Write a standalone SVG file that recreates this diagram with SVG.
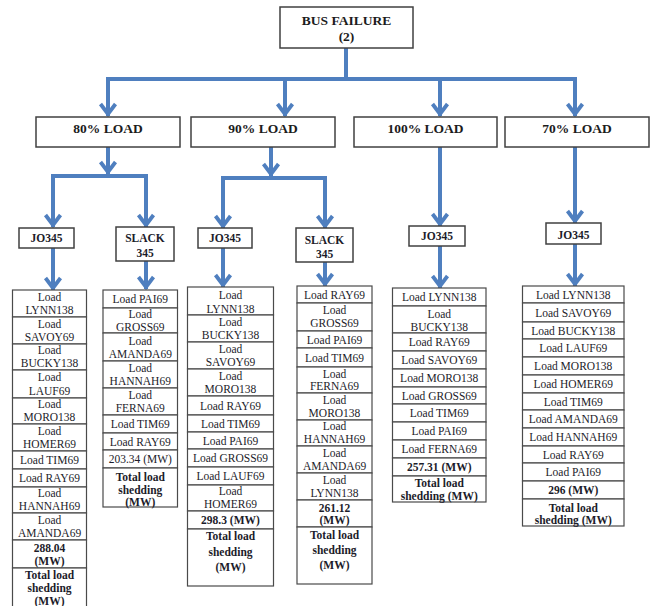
<svg xmlns="http://www.w3.org/2000/svg" width="655" height="606" viewBox="0 0 655 606">
<style>
.box{fill:#fff;stroke:#404040;stroke-width:1.5}
.cell{fill:#fff;stroke:#4a4a4a;stroke-width:1.2}
.t{font-family:'Liberation Serif','DejaVu Serif',Times,serif;font-size:11.5px;fill:#1c1c2a;text-anchor:middle}
.b{font-weight:bold}
.h{font-family:'Liberation Serif','DejaVu Serif',Times,serif;font-size:13.5px;font-weight:bold;fill:#1c1c1c;text-anchor:middle}
.conn{fill:none;stroke:#4F7FBF;stroke-width:4}
</style>
<defs>
<marker id="arr" markerUnits="userSpaceOnUse" viewBox="-16 -10 18 20" refX="0" refY="0" markerWidth="18" markerHeight="20" orient="auto">
<path d="M-12,-7.5 L-2,0 L-12,7.5" fill="none" stroke="#4F7FBF" stroke-width="3.8"/>
</marker>
</defs>
<g id="connectors">
<path class="conn" d="M346,48 V79 M106,79 H577"/>
<path class="conn" d="M108,79 V116" marker-end="url(#arr)"/>
<path class="conn" d="M285,79 V116" marker-end="url(#arr)"/>
<path class="conn" d="M440,79 V116" marker-end="url(#arr)"/>
<path class="conn" d="M575,79 V116" marker-end="url(#arr)"/>
<path class="conn" d="M108,147 V174" marker-end="url(#arr)"/>
<path class="conn" d="M51,176 H148"/>
<path class="conn" d="M53,176 V227" marker-end="url(#arr)"/>
<path class="conn" d="M146,176 V227" marker-end="url(#arr)"/>
<path class="conn" d="M53,248 V290" marker-end="url(#arr)"/>
<path class="conn" d="M146,261 V289" marker-end="url(#arr)"/>
<path class="conn" d="M271,147 V176" marker-end="url(#arr)"/>
<path class="conn" d="M221,178 H327"/>
<path class="conn" d="M223,178 V228" marker-end="url(#arr)"/>
<path class="conn" d="M325,178 V228" marker-end="url(#arr)"/>
<path class="conn" d="M223,248 V287" marker-end="url(#arr)"/>
<path class="conn" d="M325,262 V286" marker-end="url(#arr)"/>
<path class="conn" d="M440,147 V226" marker-end="url(#arr)"/>
<path class="conn" d="M440,246 V288" marker-end="url(#arr)"/>
<path class="conn" d="M575,147 V223" marker-end="url(#arr)"/>
<path class="conn" d="M575,244 V286" marker-end="url(#arr)"/>
</g>
<g id="bus-failure">
<rect class="box" x="280" y="7" width="133" height="41"/>
<text class="h" x="346.5" y="24.5">BUS FAILURE</text>
<text class="h" x="346.5" y="41">(2)</text>
</g>
<g id="load80"><rect class="box" x="36" y="117" width="144" height="30"/><text class="h" x="108" y="133">80% LOAD</text></g>
<g id="load90"><rect class="box" x="191" y="117" width="144" height="30"/><text class="h" x="263" y="133">90% LOAD</text></g>
<g id="load100"><rect class="box" x="354" y="117" width="143" height="30"/><text class="h" x="425.5" y="133">100% LOAD</text></g>
<g id="load70"><rect class="box" x="505" y="117" width="144" height="30"/><text class="h" x="577" y="133">70% LOAD</text></g>
<g id="jo345-80"><rect class="box" x="19" y="228" width="55" height="20"/><text class="t b" x="46.5" y="242">JO345</text></g>
<g id="slack345-80"><rect class="box" x="116" y="227" width="58" height="34"/><text class="t b" x="145" y="241.5">SLACK</text><text class="t b" x="145" y="256.5">345</text></g>
<g id="jo345-90"><rect class="box" x="198" y="228" width="54" height="20"/><text class="t b" x="225" y="242">JO345</text></g>
<g id="slack345-90"><rect class="box" x="296" y="228" width="57" height="34"/><text class="t b" x="324.5" y="244">SLACK</text><text class="t b" x="324.5" y="257.5">345</text></g>
<g id="jo345-100"><rect class="box" x="409" y="226" width="56" height="20"/><text class="t b" x="437" y="240">JO345</text></g>
<g id="jo345-70"><rect class="box" x="546" y="223" width="55" height="21"/><text class="t b" x="573.5" y="238.5">JO345</text></g>

<g id="table-jo345-80">
<rect class="cell" x="12.5" y="290" width="74" height="27"/>
<rect class="cell" x="12.5" y="317" width="74" height="27"/>
<rect class="cell" x="12.5" y="344" width="74" height="26"/>
<rect class="cell" x="12.5" y="370" width="74" height="28"/>
<rect class="cell" x="12.5" y="398" width="74" height="26"/>
<rect class="cell" x="12.5" y="424" width="74" height="27"/>
<rect class="cell" x="12.5" y="451" width="74" height="18"/>
<rect class="cell" x="12.5" y="469" width="74" height="18"/>
<rect class="cell" x="12.5" y="487" width="74" height="26"/>
<rect class="cell" x="12.5" y="513" width="74" height="27"/>
<rect class="cell" x="12.5" y="540" width="74" height="28"/>
<rect class="cell" x="12.5" y="568" width="74" height="44"/>
<text class="t" x="49.5" y="300.5">Load</text><text class="t" x="49.5" y="314">LYNN138</text>
<text class="t" x="49.5" y="327.5">Load</text><text class="t" x="49.5" y="341">SAVOY69</text>
<text class="t" x="49.5" y="354">Load</text><text class="t" x="49.5" y="367">BUCKY138</text>
<text class="t" x="49.5" y="381">Load</text><text class="t" x="49.5" y="394.5">LAUF69</text>
<text class="t" x="49.5" y="408">Load</text><text class="t" x="49.5" y="421">MORO138</text>
<text class="t" x="49.5" y="434.5">Load</text><text class="t" x="49.5" y="448">HOMER69</text>
<text class="t" x="49.5" y="464">Load TIM69</text>
<text class="t" x="49.5" y="482">Load RAY69</text>
<text class="t" x="49.5" y="497">Load</text><text class="t" x="49.5" y="510">HANNAH69</text>
<text class="t" x="49.5" y="523.5">Load</text><text class="t" x="49.5" y="537">AMANDA69</text>
<text class="t b" x="49.5" y="551.5">288.04</text><text class="t b" x="49.5" y="565">(MW)</text>
<text class="t b" x="49.5" y="579">Total load</text><text class="t b" x="49.5" y="592">shedding</text><text class="t b" x="49.5" y="605">(MW)</text>
</g>

<g id="table-slack345-80">
<rect class="cell" x="103" y="290" width="74.5" height="18"/>
<rect class="cell" x="103" y="308" width="74.5" height="25"/>
<rect class="cell" x="103" y="333" width="74.5" height="28"/>
<rect class="cell" x="103" y="361" width="74.5" height="27"/>
<rect class="cell" x="103" y="388" width="74.5" height="27"/>
<rect class="cell" x="103" y="415" width="74.5" height="18"/>
<rect class="cell" x="103" y="433" width="74.5" height="17"/>
<rect class="cell" x="103" y="450" width="74.5" height="18"/>
<rect class="cell" x="103" y="468" width="74.5" height="39"/>
<text class="t" x="140.25" y="303">Load PAI69</text>
<text class="t" x="140.25" y="318">Load</text><text class="t" x="140.25" y="331">GROSS69</text>
<text class="t" x="140.25" y="345">Load</text><text class="t" x="140.25" y="358">AMANDA69</text>
<text class="t" x="140.25" y="372">Load</text><text class="t" x="140.25" y="385">HANNAH69</text>
<text class="t" x="140.25" y="398.5">Load</text><text class="t" x="140.25" y="412">FERNA69</text>
<text class="t" x="140.25" y="428">Load TIM69</text>
<text class="t" x="140.25" y="445.5">Load RAY69</text>
<text class="t" x="140.25" y="463">203.34 (MW)</text>
<text class="t b" x="140.25" y="481">Total load</text><text class="t b" x="140.25" y="493.5">shedding</text><text class="t b" x="140.25" y="506">(MW)</text>
</g>

<g id="table-jo345-90">
<rect class="cell" x="187.5" y="287" width="86" height="28"/>
<rect class="cell" x="187.5" y="315" width="86" height="27"/>
<rect class="cell" x="187.5" y="342" width="86" height="27"/>
<rect class="cell" x="187.5" y="369" width="86" height="27"/>
<rect class="cell" x="187.5" y="396" width="86" height="19"/>
<rect class="cell" x="187.5" y="415" width="86" height="17"/>
<rect class="cell" x="187.5" y="432" width="86" height="17"/>
<rect class="cell" x="187.5" y="449" width="86" height="18"/>
<rect class="cell" x="187.5" y="467" width="86" height="18"/>
<rect class="cell" x="187.5" y="485" width="86" height="26"/>
<rect class="cell" x="187.5" y="511" width="86" height="18"/>
<rect class="cell" x="187.5" y="529" width="86" height="57"/>
<text class="t" x="230.5" y="299">Load</text><text class="t" x="230.5" y="312.5">LYNN138</text>
<text class="t" x="230.5" y="326">Load</text><text class="t" x="230.5" y="339">BUCKY138</text>
<text class="t" x="230.5" y="353">Load</text><text class="t" x="230.5" y="366">SAVOY69</text>
<text class="t" x="230.5" y="380">Load</text><text class="t" x="230.5" y="393">MORO138</text>
<text class="t" x="230.5" y="410">Load RAY69</text>
<text class="t" x="230.5" y="427.5">Load TIM69</text>
<text class="t" x="230.5" y="444.5">Load PAI69</text>
<text class="t" x="230.5" y="462">Load GROSS69</text>
<text class="t" x="230.5" y="480">Load LAUF69</text>
<text class="t" x="230.5" y="495">Load</text><text class="t" x="230.5" y="508">HOMER69</text>
<text class="t b" x="230.5" y="524">298.3 (MW)</text>
<text class="t b" x="230.5" y="540">Total load</text><text class="t b" x="230.5" y="555.5">shedding</text><text class="t b" x="230.5" y="570.5">(MW)</text>
</g>

<g id="table-slack345-90">
<rect class="cell" x="297" y="286" width="75" height="17"/>
<rect class="cell" x="297" y="303" width="75" height="28"/>
<rect class="cell" x="297" y="331" width="75" height="17"/>
<rect class="cell" x="297" y="348" width="75" height="19"/>
<rect class="cell" x="297" y="367" width="75" height="26"/>
<rect class="cell" x="297" y="393" width="75" height="27"/>
<rect class="cell" x="297" y="420" width="75" height="26"/>
<rect class="cell" x="297" y="446" width="75" height="27"/>
<rect class="cell" x="297" y="473" width="75" height="27"/>
<rect class="cell" x="297" y="500" width="75" height="27"/>
<rect class="cell" x="297" y="527" width="75" height="57"/>
<text class="t" x="334.5" y="298.5">Load RAY69</text>
<text class="t" x="334.5" y="314">Load</text><text class="t" x="334.5" y="327">GROSS69</text>
<text class="t" x="334.5" y="343.5">Load PAI69</text>
<text class="t" x="334.5" y="361.5">Load TIM69</text>
<text class="t" x="334.5" y="377.5">Load</text><text class="t" x="334.5" y="390">FERNA69</text>
<text class="t" x="334.5" y="403.5">Load</text><text class="t" x="334.5" y="416.5">MORO138</text>
<text class="t" x="334.5" y="430">Load</text><text class="t" x="334.5" y="443">HANNAH69</text>
<text class="t" x="334.5" y="456.5">Load</text><text class="t" x="334.5" y="469.5">AMANDA69</text>
<text class="t" x="334.5" y="483.5">Load</text><text class="t" x="334.5" y="496.5">LYNN138</text>
<text class="t b" x="334.5" y="512">261.12</text><text class="t b" x="334.5" y="524">(MW)</text>
<text class="t b" x="334.5" y="538.5">Total load</text><text class="t b" x="334.5" y="553.5">shedding</text><text class="t b" x="334.5" y="569">(MW)</text>
</g>

<g id="table-jo345-100">
<rect class="cell" x="392.5" y="288" width="93.5" height="18"/>
<rect class="cell" x="392.5" y="306" width="93.5" height="27"/>
<rect class="cell" x="392.5" y="333" width="93.5" height="18"/>
<rect class="cell" x="392.5" y="351" width="93.5" height="18"/>
<rect class="cell" x="392.5" y="369" width="93.5" height="18"/>
<rect class="cell" x="392.5" y="387" width="93.5" height="17"/>
<rect class="cell" x="392.5" y="404" width="93.5" height="18"/>
<rect class="cell" x="392.5" y="422" width="93.5" height="18"/>
<rect class="cell" x="392.5" y="440" width="93.5" height="18"/>
<rect class="cell" x="392.5" y="458" width="93.5" height="18"/>
<rect class="cell" x="392.5" y="476" width="93.5" height="26"/>
<text class="t" x="439.25" y="301">Load LYNN138</text>
<text class="t" x="439.25" y="318">Load</text><text class="t" x="439.25" y="330.5">BUCKY138</text>
<text class="t" x="439.25" y="346">Load RAY69</text>
<text class="t" x="439.25" y="364">Load SAVOY69</text>
<text class="t" x="439.25" y="382">Load MORO138</text>
<text class="t" x="439.25" y="399.5">Load GROSS69</text>
<text class="t" x="439.25" y="417">Load TIM69</text>
<text class="t" x="439.25" y="435">Load PAI69</text>
<text class="t" x="439.25" y="453">Load FERNA69</text>
<text class="t b" x="439.25" y="471">257.31 (MW)</text>
<text class="t b" x="439.25" y="487">Total load</text><text class="t b" x="439.25" y="500">shedding (MW)</text>
</g>

<g id="table-jo345-70">
<rect class="cell" x="522.5" y="286" width="101.5" height="17"/>
<rect class="cell" x="522.5" y="303" width="101.5" height="19"/>
<rect class="cell" x="522.5" y="322" width="101.5" height="17"/>
<rect class="cell" x="522.5" y="339" width="101.5" height="18"/>
<rect class="cell" x="522.5" y="357" width="101.5" height="18"/>
<rect class="cell" x="522.5" y="375" width="101.5" height="18"/>
<rect class="cell" x="522.5" y="393" width="101.5" height="17"/>
<rect class="cell" x="522.5" y="410" width="101.5" height="18"/>
<rect class="cell" x="522.5" y="428" width="101.5" height="18"/>
<rect class="cell" x="522.5" y="446" width="101.5" height="17"/>
<rect class="cell" x="522.5" y="463" width="101.5" height="18"/>
<rect class="cell" x="522.5" y="481" width="101.5" height="18"/>
<rect class="cell" x="522.5" y="499" width="101.5" height="27"/>
<text class="t" x="573.25" y="298.5">Load LYNN138</text>
<text class="t" x="573.25" y="316.5">Load SAVOY69</text>
<text class="t" x="573.25" y="334.5">Load BUCKY138</text>
<text class="t" x="573.25" y="352">Load LAUF69</text>
<text class="t" x="573.25" y="370">Load MORO138</text>
<text class="t" x="573.25" y="388">Load HOMER69</text>
<text class="t" x="573.25" y="405.5">Load TIM69</text>
<text class="t" x="573.25" y="423">Load AMANDA69</text>
<text class="t" x="573.25" y="441">Load HANNAH69</text>
<text class="t" x="573.25" y="458.5">Load RAY69</text>
<text class="t" x="573.25" y="476">Load PAI69</text>
<text class="t b" x="573.25" y="494">296 (MW)</text>
<text class="t b" x="573.25" y="512">Total load</text><text class="t b" x="573.25" y="524">shedding (MW)</text>
</g>
</svg>
